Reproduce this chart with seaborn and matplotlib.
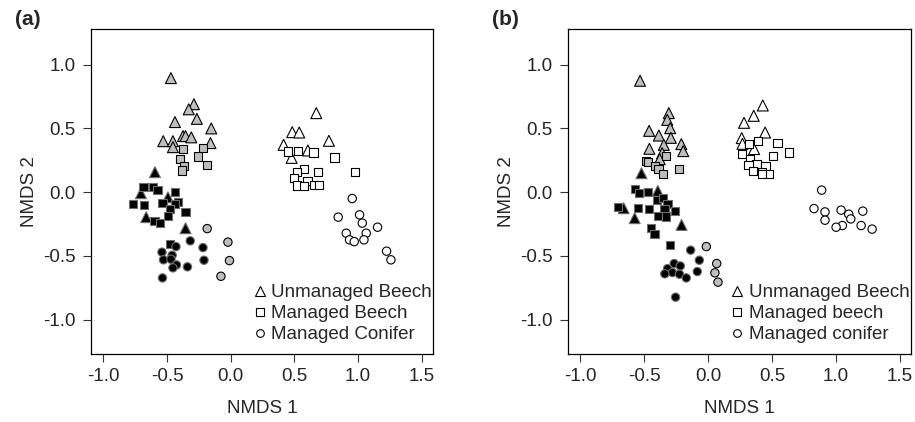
import numpy as np
import pandas as pd
import matplotlib
matplotlib.use("Agg")
import matplotlib.pyplot as plt
from matplotlib.lines import Line2D
import seaborn as sns

# Panel (a): NMDS scores, forest type (UB/MB/MC) and region fill (g/k/w)
a_x = [-0.47, -0.289, -0.33, -0.438, -0.266, -0.153, -0.53, -0.454, -0.375, -0.355, -0.31, -0.159, -0.454,
       -0.375, -0.218, -0.255, -0.40, -0.365, -0.38, -0.185,
       -0.185, -0.022, -0.01, -0.077,
       -0.595, -0.705, -0.493, -0.664, -0.355,
       -0.685, -0.61, -0.575, -0.44, -0.415, -0.436, -0.766, -0.682, -0.536, -0.48, -0.355, -0.496, -0.599,
       -0.554, -0.475,
       -0.318, -0.43, -0.218, -0.54, -0.46, -0.528, -0.47, -0.21, -0.426, -0.454, -0.34, -0.536,
       0.672, 0.483, 0.538, 0.771, 0.415, 0.606, 0.478,
       0.452, 0.53, 0.65, 0.815, 0.572, 0.52, 0.682, 0.973, 0.499, 0.603, 0.52, 0.575, 0.654, 0.69,
       0.954, 0.844, 1.012, 1.033, 1.153, 1.064, 0.907, 0.933, 0.97, 1.046, 1.224, 1.258]
a_y = [0.895, 0.69, 0.65, 0.55, 0.575, 0.50, 0.40, 0.40, 0.44, 0.44, 0.43, 0.385, 0.353,
       0.337, 0.35, 0.28, 0.26, 0.206, 0.17, 0.21,
       -0.286, -0.392, -0.537, -0.66,
       0.157, -0.008, -0.04, -0.196, -0.283,
       0.04, 0.04, 0.018, 0.0, -0.074, -0.092, -0.092, -0.10, -0.086, -0.131, -0.155, -0.186, -0.223,
       -0.241, -0.406,
       -0.382, -0.427, -0.435, -0.471, -0.495, -0.531, -0.526, -0.534, -0.571, -0.594, -0.586, -0.673,
       0.62, 0.471, 0.468, 0.403, 0.371, 0.327, 0.269,
       0.319, 0.322, 0.311, 0.272, 0.183, 0.159, 0.157, 0.157, 0.112, 0.091, 0.052, 0.05, 0.057, 0.057,
       -0.05, -0.196, -0.178, -0.243, -0.275, -0.322, -0.322, -0.374, -0.388, -0.374, -0.463, -0.531]
a_type = ["UB"] * 13 + ["MB"] * 7 + ["MC"] * 4 + ["UB"] * 5 + ["MB"] * 15 + ["MC"] * 12 \
    + ["UB"] * 7 + ["MB"] * 14 + ["MC"] * 12
a_fill = ["g"] * 24 + ["k"] * 32 + ["w"] * 33

# Panel (b)
b_x = [-0.533, -0.308, -0.32, -0.462, -0.297, -0.386, -0.292, -0.347, -0.21, -0.195, -0.46, -0.36, -0.379,
       -0.486, -0.47, -0.328, -0.415, -0.389, -0.352, -0.229,
       -0.014, 0.067, 0.053, 0.077,
       -0.522, -0.394, -0.661, -0.575, -0.208,
       -0.575, -0.54, -0.47, -0.399, -0.352, -0.318, -0.342, -0.705, -0.548, -0.465, -0.258, -0.394, -0.328,
       -0.449, -0.42, -0.30,
       -0.137, -0.266, -0.218, -0.318, -0.069, -0.085, -0.279, -0.339, -0.224, -0.171, -0.255,
       0.428, 0.357, 0.281, 0.446, 0.263, 0.269, 0.36,
       0.32, 0.394, 0.543, 0.632, 0.263, 0.507, 0.326, 0.379, 0.316, 0.449, 0.352, 0.42, 0.473, 0.423,
       0.889, 0.829, 0.915, 0.915, 1.041, 1.101, 1.117, 1.211, 1.051, 1.002, 1.198, 1.284]
b_y = [0.874, 0.62, 0.567, 0.481, 0.502, 0.444, 0.426, 0.371, 0.377, 0.322, 0.34, 0.306, 0.259,
       0.248, 0.24, 0.287, 0.206, 0.18, 0.144, 0.18,
       -0.427, -0.56, -0.633, -0.706,
       0.149, 0.01, -0.126, -0.204, -0.257,
       0.023, -0.008, 0.002, -0.063, -0.047, -0.092, -0.129, -0.113, -0.121, -0.133, -0.149, -0.184, -0.191,
       -0.28, -0.33, -0.414,
       -0.455, -0.56, -0.579, -0.60, -0.534, -0.623, -0.631, -0.641, -0.644, -0.673, -0.824,
       0.68, 0.599, 0.544, 0.468, 0.424, 0.379, 0.338,
       0.379, 0.403, 0.389, 0.311, 0.301, 0.287, 0.261, 0.222, 0.212, 0.206, 0.167, 0.159, 0.146, 0.141,
       0.016, -0.129, -0.155, -0.22, -0.141, -0.173, -0.21, -0.149, -0.262, -0.275, -0.262, -0.29]
b_type = ["UB"] * 13 + ["MB"] * 7 + ["MC"] * 4 + ["UB"] * 5 + ["MB"] * 16 + ["MC"] * 11 \
    + ["UB"] * 7 + ["MB"] * 14 + ["MC"] * 12
b_fill = ["g"] * 24 + ["k"] * 32 + ["w"] * 33

labels_a = ["Unmanaged Beech", "Managed Beech", "Managed Conifer"]
labels_b = ["Unmanaged Beech", "Managed beech", "Managed conifer"]

fill_colors = {"g": "#bebebe", "k": "black", "w": "white"}
edge_colors = {"g": "black", "k": "#6e6e6e", "w": "black"}
markers = {"UB": "^", "MB": "s", "MC": "o"}
sizes = {"UB": 62, "MB": 34, "MC": 36}

sns.set_style("ticks")
plt.rcParams["font.family"] = ["Liberation Sans", "DejaVu Sans"]
plt.rcParams["axes.unicode_minus"] = False

fig = plt.figure(figsize=(9.15, 4.22), dpi=100)
ax_a = fig.add_axes([0.0995, 0.1611, 0.3738, 0.7701])
ax_b = fig.add_axes([0.6208, 0.1611, 0.3749, 0.7701])


def draw_panel(ax, xs, ys, types, fills, labels, tag):
    df = pd.DataFrame({"x": xs, "y": ys, "type": types, "fill": fills})
    for f in ["g", "k", "w"]:
        sub = df[df["fill"] == f]
        sns.scatterplot(data=sub, x="x", y="y", style="type", markers=markers,
                        size="type", sizes=sizes, color=fill_colors[f],
                        edgecolor=edge_colors[f], linewidth=0.8, legend=False, ax=ax)
    ax.set_xlim(-1.097, 1.589)
    ax.set_ylim(-1.27, 1.28)
    ax.set_xticks(np.arange(-1.0, 1.51, 0.5))
    ax.set_yticks(np.arange(-1.0, 1.01, 0.5))
    ax.set_xticklabels([f"{v:.1f}" for v in np.arange(-1.0, 1.51, 0.5)])
    ax.set_yticklabels([f"{v:.1f}" for v in np.arange(-1.0, 1.01, 0.5)])
    ax.tick_params(labelsize=13.5, length=6, width=0.8, color="#333333", pad=4)
    ax.tick_params(axis="y", pad=5)
    for sp in ax.spines.values():
        sp.set_color("black")
        sp.set_linewidth(0.9)
    ax.set_xlabel("NMDS 1", fontsize=13.5, labelpad=11)
    ax.set_ylabel("NMDS 2", fontsize=13.5, labelpad=4)

    handles = [Line2D([], [], ls="", marker=markers[t], mfc="none", mec="black",
                      mew=0.8, ms=ms) for t, ms in zip(["UB", "MB", "MC"], [7.5, 5.5, 5.5])]
    ax.legend(handles, labels, loc="upper left", bbox_to_anchor=(0.472, 0.215),
              frameon=False, fontsize=13.5, handlelength=0.8, handletextpad=0.2,
              labelspacing=0.21, borderpad=0, borderaxespad=0)
    ax.text(-0.222, 1.028, tag, transform=ax.transAxes, fontsize=15, fontweight="bold",
            ha="left", va="center")


draw_panel(ax_a, a_x, a_y, a_type, a_fill, labels_a, "(a)")
draw_panel(ax_b, b_x, b_y, b_type, b_fill, labels_b, "(b)")

fig.savefig("out.png", dpi=100)
